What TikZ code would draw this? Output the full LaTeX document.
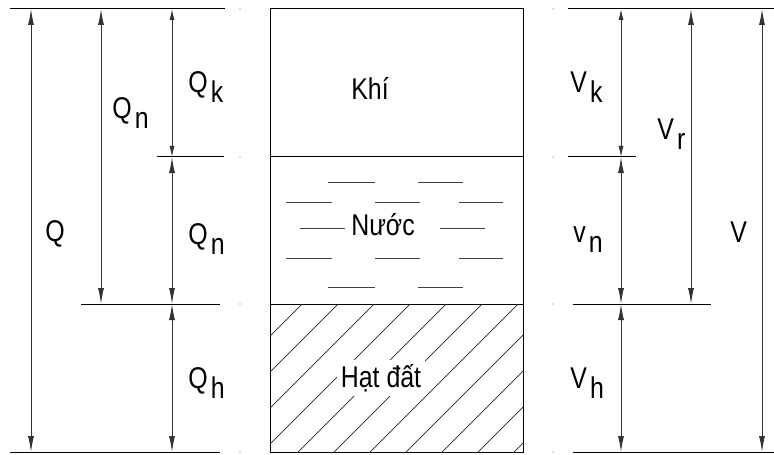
\documentclass[tikz,border=0pt]{standalone}
\usepackage{fontspec}
\setmainfont{Liberation Sans}[FakeStretch=0.83]
\usetikzlibrary{arrows.meta}

\newcommand{\lowsub}[1]{\hspace{1.5pt}\raisebox{-5pt}{#1}}

\begin{document}
\begin{tikzpicture}[
    x=0.5pt, y=-0.5pt,
    font=\fontsize{15}{17}\selectfont,
    dim/.style={{Latex[length=8pt,width=3pt]}-{Latex[length=8pt,width=3pt]}, line width=0.5pt, black!80},
    dimsmall/.style={{Latex[length=5.5pt,width=2.5pt]}-{Latex[length=5.5pt,width=2.5pt]}, line width=0.5pt, black!80},
    level/.style={line width=0.5pt},
    wline/.style={line width=0.5pt, black!75},
    hatch/.style={line width=0.35pt, black!85},
    lbl/.style={anchor=base west, inner sep=0pt},
    dot/.style={circle, fill=black!60, inner sep=0pt, minimum size=0.7pt}
]
\useasboundingbox (0,0) rectangle (774,454);

% levels and columns
\coordinate (lvTop) at (0,9);
\coordinate (lvAir) at (0,157);
\coordinate (lvWat) at (0,304);
\coordinate (lvBot) at (0,452);
\coordinate (colQ) at (31,0);
\coordinate (colQn) at (101,0);
\coordinate (colQk) at (172,0);
\coordinate (colVk) at (621,0);
\coordinate (colVr) at (691,0);
\coordinate (colV) at (762,0);

% soil column
\draw[level] (270,9) rectangle (523,452);
\draw[level] (270,157) -- (523,157);
\draw[level] (270,304) -- (523,304);

\begin{scope}
  \clip (270,304) rectangle (523,452);
  \foreach \c in {570,606,...,1000}
    \draw[hatch] (\c-304,304) -- (\c-452,452);
\end{scope}

\foreach \y in {182,287}
  \foreach \a/\b in {328/375,418/463}
    \draw[wline] (\a,\y) -- (\b,\y);
\foreach \y in {202,258}
  \foreach \a/\b in {286/332,375/420,459/503}
    \draw[wline] (\a,\y) -- (\b,\y);
\draw[wline] (300,228) -- (345,228);
\draw[wline] (440,228) -- (485,228);

\node[anchor=base] (air) at (370,100) {Khí};
\node[anchor=base] (water) at (383,235) {Nước};
\node[anchor=base, fill=white, inner sep=2pt] (soil) at (381,387) {Hạt đất};

% left dimensions
\draw[level] (10,9) -- (225,9);
\draw[level] (157,157) -- (224,157);
\draw[level] (81,304) -- (220,304);
\draw[level] (10,452) -- (220,452);

\draw[dim] (colQ |- lvTop) -- (colQ |- lvBot);
\draw[dim] (colQn |- lvTop) -- (colQn |- lvWat);
\draw[dimsmall] (colQk |- lvTop) -- (colQk |- lvAir);
\draw[dim] (colQk |- lvAir) -- (colQk |- lvWat);
\draw[dim] (colQk |- lvWat) -- (colQk |- lvBot);

\node[lbl] (lQ) at (45,241) {Q};
\node[lbl] (lQn1) at (112,119) {Q\lowsub{n}};
\node[lbl] (lQk) at (188,93) {Q\lowsub{k}};
\node[lbl] (lQn2) at (188,244) {Q\lowsub{n}};
\node[lbl] (lQh) at (188,388) {Q\lowsub{h}};

% right dimensions
\draw[level] (568,9) -- (774,9);
\draw[level] (568,157) -- (636,157);
\draw[level] (573,304) -- (711,304);
\draw[level] (573,452) -- (774,452);

\draw[dimsmall] (colVk |- lvTop) -- (colVk |- lvAir);
\draw[dim] (colVk |- lvAir) -- (colVk |- lvWat);
\draw[dim] (colVk |- lvWat) -- (colVk |- lvBot);
\draw[dim] (colVr |- lvTop) -- (colVr |- lvWat);
\draw[dim] (colV |- lvTop) -- (colV |- lvBot);

\node[lbl] (lVk) at (570,93) {V\lowsub{k}};
\node[lbl] (lVr) at (657,140) {V\lowsub{r}};
\node[lbl] (lvn) at (573,242) {v\lowsub{n}};
\node[lbl] (lV) at (730,242) {V};
\node[lbl] (lVh) at (570,388) {V\lowsub{h}};

% stray points
\foreach \x in {240,553}
  \foreach \y in {9,157,304,452}
    \node[dot] at (\x,\y) {};
\end{tikzpicture}
\end{document}
